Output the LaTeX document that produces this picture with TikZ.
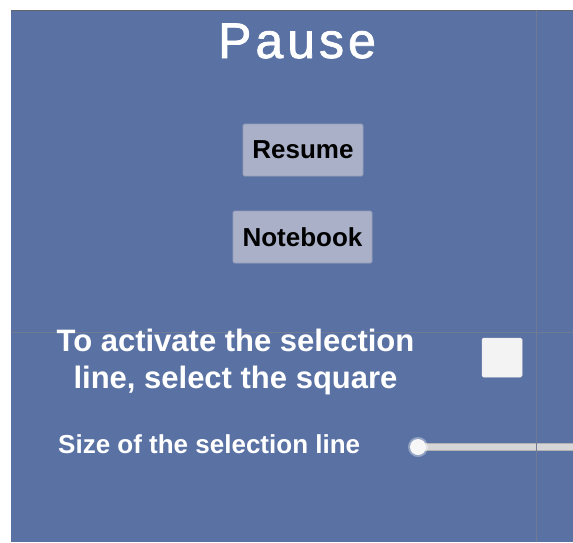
\documentclass[tikz,border=0pt]{standalone}
\usepackage{fontspec}
\setmainfont{Liberation Sans}
\newfontfamily\titlefont[LetterSpace=8,FakeBold=1.5]{Liberation Sans}
\definecolor{bgblue}{RGB}{90,114,163}
\definecolor{btnfill}{RGB}{169,176,200}
\definecolor{btnedge}{RGB}{150,158,186}
\definecolor{gridgray}{RGB}{112,122,146}
\definecolor{topedge}{RGB}{95,98,105}
\definecolor{boxwhite}{RGB}{243,243,243}
\definecolor{trackgray}{RGB}{214,214,216}
\tikzset{
  btn/.style={draw=btnedge, line width=0.8pt, fill=btnfill, rounded corners=1.5pt,
    inner sep=0pt, text=black, font=\fontsize{26}{30}\selectfont\bfseries},
  whitetxt/.style={text=white, inner sep=0pt, font=\fontsize{31}{37}\selectfont\bfseries},
  gridline/.style={draw=gridgray, line width=0.8pt}
}
\begin{document}
\begin{tikzpicture}[x=1pt,y=-1pt]
\useasboundingbox (0,0) rectangle (573,542);
% background panel
\fill[bgblue] (11,10) rectangle (573,542);
\draw[topedge, line width=1.5pt] (11,10.5) -- (573,10.5);
% guide lines
\draw[gridline] (11,332) -- (573,332);
% title
\node[text=white, inner sep=0pt, anchor=base, font=\titlefont\fontsize{50}{55}\selectfont] (title) at (297,58) {Pause};
% buttons
\node[btn, minimum width=120pt, minimum height=52pt] (resume) at (303,150) {Resume};
\node[btn, minimum width=139pt, minimum height=52pt] (notebook) at (302.5,237) {Notebook};
% toggle text
\node[whitetxt, anchor=base] (act1) at (235.5,351) {To activate the selection};
\node[whitetxt, anchor=base] (act2) at (235.5,388) {line, select the square};
% toggle box
\node[fill=boxwhite, draw=white!85!gray, line width=0.5pt, rounded corners=1.5pt, minimum width=40pt, minimum height=39pt, inner sep=0pt] (toggle) at (502,357.5) {};
% slider label
\node[text=white, inner sep=0pt, anchor=base west, font=\fontsize{26}{30}\selectfont\bfseries] (sizelbl) at (58,453) {Size of the selection line};
% slider track
\fill[trackgray, draw=gray!60, line width=0.5pt] (418,443) rectangle (575,450);
\coordinate (trackend) at (573,446.5);
% slider handle
\fill[white, opacity=0.35] (418,447) circle (10);
\node[circle, fill=white!94!gray, minimum size=16pt, inner sep=0pt] (handle) at (418,447) {};
% vertical guide line
\draw[gridline] (536,10) -- (536,542);
\end{tikzpicture}
\end{document}
